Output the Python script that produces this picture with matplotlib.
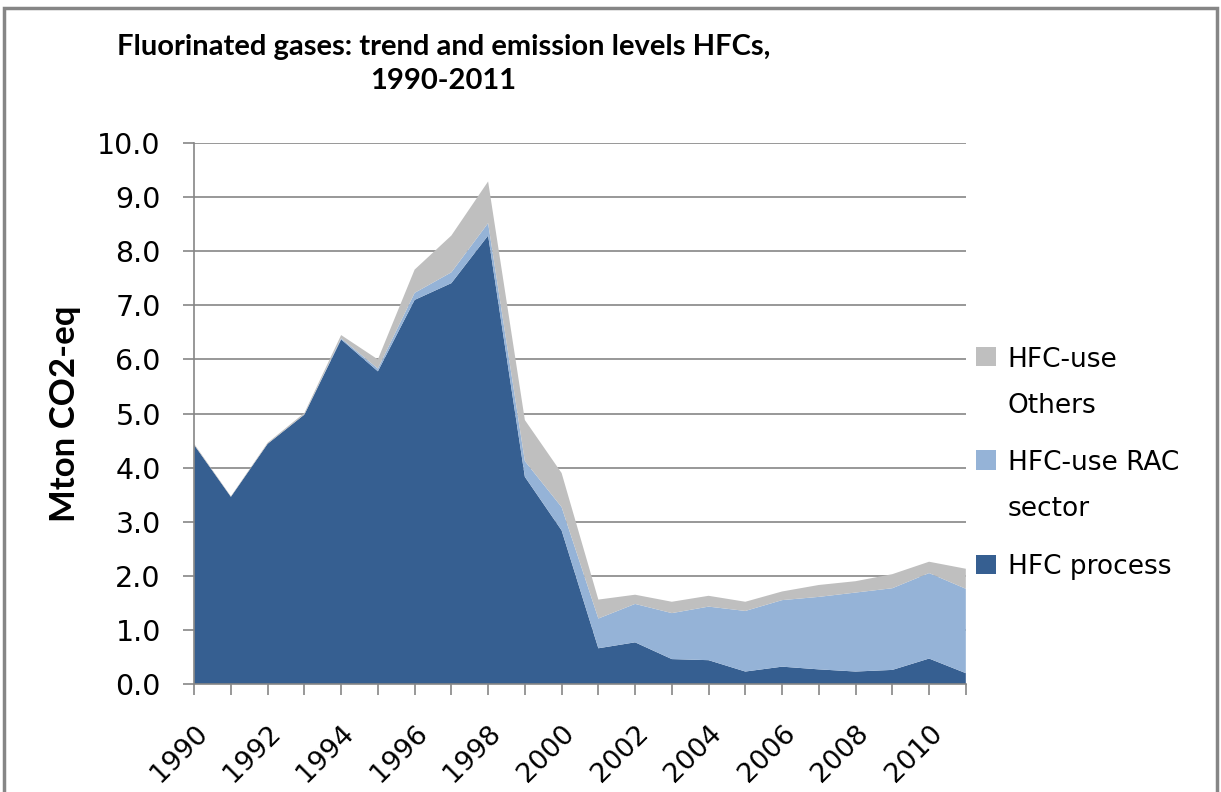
import matplotlib.pyplot as plt
from matplotlib.patches import Rectangle, Patch
from matplotlib.legend_handler import HandlerPatch
import matplotlib.transforms as mtransforms
import numpy as np

plt.rcParams['font.family'] = ['Lato', 'DejaVu Sans']

years = list(range(1990, 2012))
hfc_process = [4.42, 3.46, 4.44, 4.98, 6.37, 5.78, 7.10, 7.41, 8.29, 3.83, 2.84,
               0.66, 0.77, 0.46, 0.44, 0.23, 0.32, 0.27, 0.23, 0.26, 0.47, 0.20]
hfc_rac = [0.0, 0.0, 0.0, 0.0, 0.02, 0.05, 0.13, 0.20, 0.23, 0.29, 0.43,
           0.55, 0.71, 0.85, 0.99, 1.12, 1.23, 1.34, 1.46, 1.51, 1.58, 1.56]
hfc_others = [0.02, 0.01, 0.02, 0.03, 0.06, 0.17, 0.43, 0.68, 0.77, 0.76, 0.63,
              0.35, 0.17, 0.21, 0.20, 0.17, 0.16, 0.22, 0.21, 0.26, 0.21, 0.37]
labels = ['HFC process', 'HFC-use RAC\nsector', 'HFC-use\nOthers']
colors = ['#365f91', '#95b3d7', '#bfbfbf']

fig = plt.figure(figsize=(12.21, 7.92), dpi=100)
ax = fig.add_axes([0.159, 0.1364, 0.632, 0.683])

ax.stackplot(years, hfc_process, hfc_rac, hfc_others,
             colors=colors, linewidth=0, zorder=2)

ax.set_xlim(1990, 2011)
ax.set_ylim(0, 10)
yt = np.arange(0, 10.1, 1.0)
ax.set_yticks(yt)
ax.set_yticklabels([f'{v:.1f}' for v in yt], fontsize=20.5, family='DejaVu Sans')
ax.set_xticks(years)
ax.set_xticklabels([str(y) if y % 2 == 0 else '' for y in years],
                   rotation=45, ha='right', va='top', rotation_mode='anchor',
                   fontsize=19.5, family='DejaVu Sans')
shift = mtransforms.ScaledTranslation(5 / 100, 0, fig.dpi_scale_trans)
for lab in ax.get_xticklabels():
    lab.set_transform(lab.get_transform() + shift)
ax.tick_params(axis='both', direction='out', length=8, color='#868686', width=1.2)
ax.tick_params(axis='x', pad=18)
ax.tick_params(axis='y', pad=16)

ax.grid(axis='y', color='#868686', linewidth=1.2, zorder=1)
ax.set_axisbelow(True)
for s in ['top', 'right']:
    ax.spines[s].set_visible(False)
for s in ['left', 'bottom']:
    ax.spines[s].set_color('#868686')
    ax.spines[s].set_linewidth(1.2)

ax.set_ylabel('Mton CO2-eq', fontsize=25, fontweight='bold', labelpad=12)

fig.text(0.363, 0.919, 'Fluorinated gases: trend and emission levels HFCs,\n1990-2011',
         ha='center', va='center', fontsize=21, fontweight='bold', linespacing=1.35)


# legend square sits next to the first line of a wrapped label
class FirstLineHandler(HandlerPatch):
    def __init__(self, nlines):
        super().__init__()
        self.nlines = nlines

    def create_artists(self, legend, orig_handle, xdescent, ydescent, width, height,
                       fontsize, trans):
        arts = super().create_artists(legend, orig_handle, xdescent, ydescent, width,
                                      height, fontsize, trans)
        off = (self.nlines - 1) * 27 * 72 / 100
        for a in arts:
            a.set_y(a.get_y() + off)
        return arts


handles = [Patch(facecolor=c, edgecolor='none') for c in colors][::-1]
leg_labels = labels[::-1]
hmap = {h: FirstLineHandler(l.count('\n') + 1) for h, l in zip(handles, leg_labels)}
leg = fig.legend(handles, leg_labels, loc='center left', handler_map=hmap,
                 bbox_to_anchor=(0.780, 0.415), frameon=False,
                 prop={'family': 'DejaVu Sans', 'size': 19},
                 handlelength=0.75, handleheight=0.75, handletextpad=0.45,
                 labelspacing=1.2)
for t in leg.get_texts():
    t.set_linespacing(2.0)

fig.patches.append(Rectangle((0.003, -0.01), 0.994, 1.0, transform=fig.transFigure,
                             fill=False, edgecolor='#868686', linewidth=2.5))

fig.savefig('out.png', dpi=100)
